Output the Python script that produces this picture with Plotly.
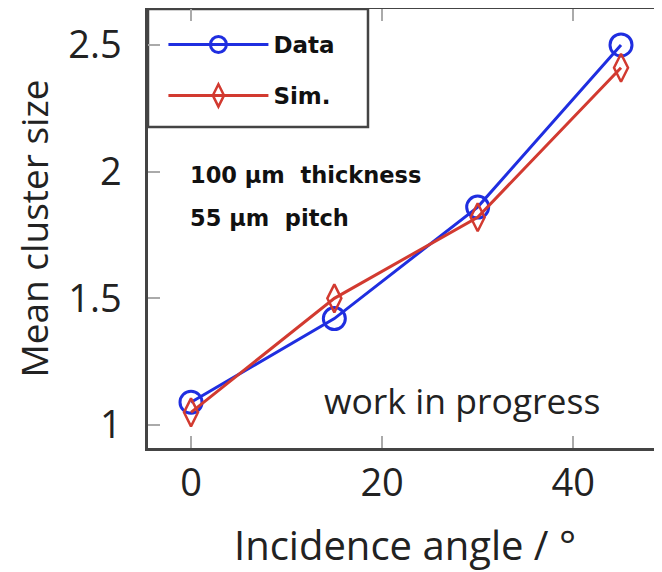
import plotly.graph_objects as go

angles = [0, 15, 30, 45]
data_vals = [1.09, 1.42, 1.86, 2.50]
sim_vals = [1.05, 1.50, 1.82, 2.41]
x_ticks = [0, 20, 40]
y_ticks = [1, 1.5, 2, 2.5]
y_ticklabels = ["1", "1.5", "2", "2.5"]

BLUE = "#1f2ee0"
RED = "#d23a30"
FONT = "Open Sans"

fig = go.Figure()
fig.add_trace(go.Scatter(
    x=angles, y=data_vals, name="<b>Data</b>", mode="lines+markers",
    line=dict(color=BLUE, width=3),
    marker=dict(symbol="circle-open", size=22, color=BLUE, line=dict(width=3, color=BLUE)),
    legendgroup="a",
))
fig.add_trace(go.Scatter(
    x=angles, y=sim_vals, name="<b>Sim.</b>", mode="lines+markers",
    line=dict(color=RED, width=3),
    marker=dict(symbol="diamond-tall-open", size=20, color=RED, line=dict(width=2.5, color=RED)),
    legendgroup="b",
))

yr = [0.9094, 2.6417]
fig.update_layout(
    width=654, height=564,
    margin=dict(l=140, r=0, t=1, b=124),
    plot_bgcolor="white", paper_bgcolor="white",
    font=dict(family=FONT, color="#222"),
    xaxis=dict(
        range=[-4.5, 49.29], tickvals=x_ticks, ticks="inside", ticklen=12, tickwidth=2,
        tickcolor="#aaa", showline=True, linecolor="#444", linewidth=2.5, mirror="ticks",
        showgrid=False, zeroline=False, tickfont=dict(size=38, family=FONT, color="#222"),
        ticklabelstandoff=0, automargin=False,
        title=dict(text="Incidence angle / °", font=dict(size=40, family=FONT, color="#222"), standoff=30),
    ),
    yaxis=dict(
        range=yr, tickvals=y_ticks, ticktext=y_ticklabels, ticks="inside", ticklen=12, tickwidth=2,
        tickcolor="#aaa", showline=True, linecolor="#444", linewidth=2.5, mirror=False,
        showgrid=False, zeroline=False, tickfont=dict(size=38, family=FONT, color="#222"),
        ticklabelstandoff=16, automargin=False,
        title=dict(text="Mean cluster size", font=dict(size=37, family=FONT, color="#222"), standoff=26),
    ),
    yaxis2=dict(
        range=yr, overlaying="y", side="right", anchor="x", matches="y",
        tickvals=y_ticks, ticks="inside", ticklen=12, tickwidth=2, tickcolor="#aaa",
        showticklabels=False, showline=False, showgrid=False, zeroline=False, automargin=False,
    ),
    legend=dict(
        x=0.03, y=0.968, xanchor="left", yanchor="top",
        bgcolor="rgba(0,0,0,0)", borderwidth=0,
        font=dict(size=23, family="DejaVu Sans", color="#111"),
        itemwidth=100, tracegroupgap=18,
    ),
    showlegend=True,
    shapes=[dict(
        type="rect", xref="paper", yref="paper", x0=0, x1=0.428, y0=0.731, y1=1,
        line=dict(color="#444", width=2.5), fillcolor="white", layer="below",
    )],
)

fig.add_annotation(x=0.078, y=0.623, xref="paper", yref="paper", xanchor="left", yanchor="middle",
                   text="<b>100 µm  thickness</b>", showarrow=False,
                   font=dict(size=22.5, family="DejaVu Sans", color="#111"))
fig.add_annotation(x=0.078, y=0.523, xref="paper", yref="paper", xanchor="left", yanchor="middle",
                   text="<b>55 µm  pitch</b>", showarrow=False,
                   font=dict(size=22.5, family="DejaVu Sans", color="#111"))
fig.add_annotation(x=0.883, y=0.109, xref="paper", yref="paper", xanchor="right", yanchor="middle",
                   text="work in progress", showarrow=False,
                   font=dict(size=35.5, family=FONT, color="#222"))

fig.write_html("out.html")
